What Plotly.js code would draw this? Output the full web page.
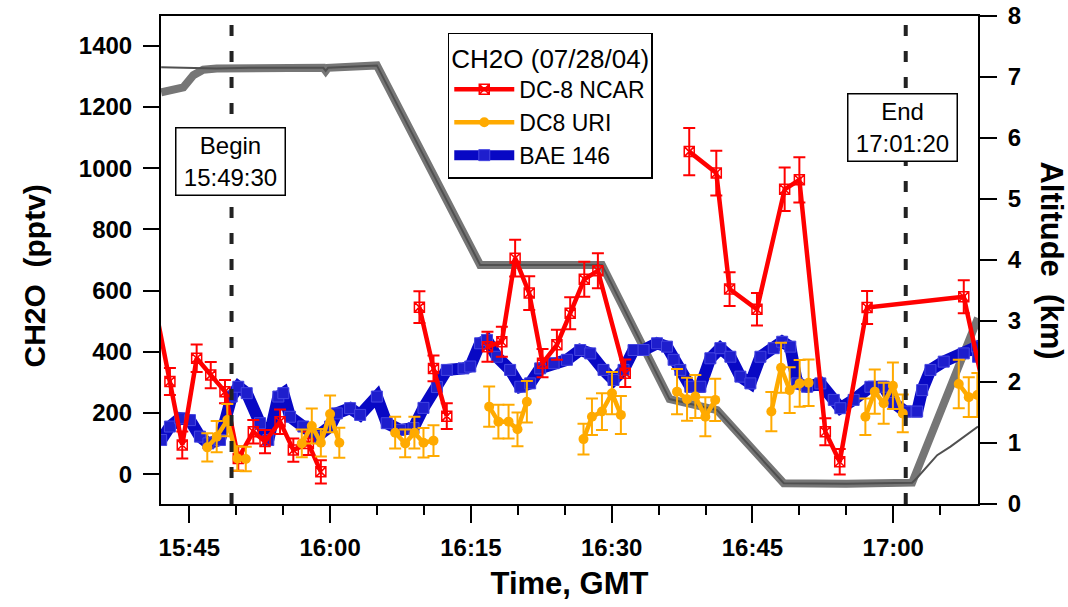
<!DOCTYPE html>
<html>
<head>
<meta charset="utf-8">
<script src="https://cdn.plot.ly/plotly-3.0.1.min.js"></script>
<style>
  html, body { margin: 0; padding: 0; background: #fff; }
  #chart { width: 1068px; height: 607px; }
</style>
</head>
<body>
<div id="chart"></div>
<script>
// CH2O intercomparison flight, 07/28/04 (times GMT)
const flightDate = '2004-07-28';

// DC-8 NCAR CH2O (pptv) with 1-sigma uncertainty; null = gap between legs
const ncarTime = ['15:41:20','15:42:56','15:44:15','15:45:47','15:47:17','15:48:48','15:50:13','15:51:49','15:53:04','15:54:40','15:56:05','15:57:41','15:59:01', null,
  '16:09:31','16:11:01','16:12:26', null,
  '16:16:46','16:18:18','16:19:43','16:21:13','16:22:38','16:24:10','16:25:35','16:27:05','16:28:32','16:31:27', null,
  '16:38:16','16:41:09','16:42:34','16:45:29','16:48:26','16:50:00','16:52:46','16:54:18','16:57:13','17:07:31','17:09:45'];
const ncarCH2O = [551,303,96,379,324,270,52,139,107,172,79,101,8, null,
  546,346,190, null,
  417,433,706,592,363,423,526,637,665,330, null,
  1054,984,605,539,931,962,139,41,545,580,265];
const ncarErr = [0,44,44,45,43,38,40,38,38,40,38,38,38, null,
  52,42,42, null,
  49,49,60,55,46,49,52,57,57,45, null,
  77,73,55,53,71,74,44,42,54,54,0];

// DC-8 URI CH2O (pptv)
const uriTime = ['15:46:55','15:47:55','15:49:03','15:50:07','15:51:01', null,
  '15:56:59','15:58:03','15:59:01','16:00:00','16:00:59', null,
  '16:06:56','16:08:00','16:08:59','16:09:57','16:11:01', null,
  '16:16:57','16:17:56','16:19:01','16:19:58','16:20:58', null,
  '16:27:00','16:27:54','16:28:58','16:30:02','16:30:59', null,
  '16:36:58','16:38:02','16:38:55','16:39:59','16:41:02', null,
  '16:47:01','16:48:03','16:48:58','16:50:02','16:50:59', null,
  '16:57:02','16:58:02','16:58:59','16:59:58','17:01:01', null,
  '17:06:59','17:08:03','17:08:58'];
const uriCH2O = [88,123,177,52,50, null,
  101,158,103,197,103, null,
  136,101,136,103,110, null,
  221,172,172,147,237, null,
  115,188,205,265,194, null,
  270,245,254,188,243, null,
  205,348,275,297,299, null,
  188,270,232,289,199, null,
  295,252,259];
const uriErr = [46,51,53,40,40, null,
  45,57,45,60,49, null,
  52,45,52,48,50, null,
  66,55,55,55,68, null,
  50,60,60,69,62, null,
  74,70,70,64,69, null,
  64,82,75,76,76, null,
  60,72,67,76,62, null,
  79,65,72];

// BAe 146 CH2O (pptv)
const baeTime = ['15:42:00','15:42:56','15:44:01','15:45:04','15:46:08','15:47:02','15:48:16','15:49:31','15:50:13','15:51:07',
  '15:52:32','15:53:25','15:54:29','15:55:01','15:55:44','15:57:09','15:58:35','16:00:00','16:00:43','16:02:08',
  '16:03:12','16:04:59','16:06:02','16:07:28','16:08:53','16:09:57','16:11:23','16:12:26','16:14:13','16:14:56',
  '16:15:59','16:16:43','16:17:46','16:19:11','16:20:16','16:21:19','16:22:23','16:23:49','16:25:14','16:26:39',
  '16:27:43','16:29:08','16:30:12','16:31:16','16:32:20','16:33:24','16:34:50','16:35:54','16:36:36','16:37:19',
  '16:38:23','16:39:27','16:40:31','16:41:35','16:42:39','16:43:43','16:44:47','16:45:51','16:47:16','16:48:10',
  '16:49:02','16:49:46','16:50:49','16:52:14','16:53:40','16:54:22','16:55:47','16:57:34','16:58:59','17:00:03',
  '17:01:18','17:02:33','17:03:05','17:03:58','17:05:23','17:07:31','17:08:56','17:09:02'];
const baeCH2O = [112,156,183,177,123,101,112,254,286,265,
  167,112,254,265,188,156,123,156,199,216,
  194,254,167,145,151,217,285,341,346,352,
  428,439,384,341,286,297,346,363,374,406,
  395,341,308,341,406,406,428,417,374,341,
  286,286,379,412,384,319,297,384,412,433,
  417,297,286,297,243,216,243,286,286,233,
  205,205,275,341,368,395,417,384];

// DC-8 altitude (km)
const dc8AltTime = ['15:42:00','15:43:17','15:44:22','15:45:26','15:46:29','15:47:55','15:51:28','15:59:17','15:59:32','15:59:47',
  '16:04:59','16:15:59','16:28:58','16:36:10','16:41:14','16:48:20','16:55:00','17:02:01','17:09:02'];
const dc8Alt = [6.75,6.78,6.83,7.03,7.12,7.14,7.15,7.15,7.10,7.15,
  7.19,3.92,3.92,1.72,1.54,0.34,0.33,0.35,3.05];

// BAe 146 altitude (km)
const baeAltTime = ['15:42:00','15:47:55','15:51:28','15:59:17','15:59:32','15:59:47','16:04:59','16:15:59','16:28:58','16:36:10',
  '16:41:14','16:48:20','16:55:00','17:02:01','17:02:33','17:04:41','17:06:06','17:09:02'];
const baeAlt = [7.16,7.14,7.15,7.15,7.10,7.15,7.19,3.92,3.92,1.72,
  1.54,0.34,0.33,0.35,0.43,0.80,0.94,1.27];

// Start / end of the comparison window
const windowMarks = [
  { label: 'Begin', time: '15:49:30' },
  { label: 'End', time: '17:01:20' }
];

const axisRange = ['15:41:59', '17:09:02'];

const stamp = t => (t === null ? null : flightDate + ' ' + t);
const stamps = arr => arr.map(stamp);

const FONT = 'Liberation Sans, Arial, Helvetica, sans-serif';
const RED = 'rgb(255,0,0)';
const ORANGE = 'rgb(255,170,0)';
const BLUE = 'rgb(8,8,196)';

const traces = [
  {
    name: 'DC-8 altitude', x: stamps(dc8AltTime), y: dc8Alt, yaxis: 'y',
    mode: 'lines', line: { color: 'rgb(118,118,118)', width: 8 }, showlegend: false, hoverinfo: 'skip'
  },
  {
    name: 'BAe 146 altitude', x: stamps(baeAltTime), y: baeAlt, yaxis: 'y',
    mode: 'lines', line: { color: 'rgb(80,80,80)', width: 2 }, showlegend: false, hoverinfo: 'skip'
  },
  {
    name: 'BAE 146', x: stamps(baeTime), y: baeCH2O, yaxis: 'y2',
    mode: 'lines+markers',
    line: { color: BLUE, width: 12 },
    marker: { symbol: 'square', size: 11, color: 'rgb(30,30,205)', line: { color: 'rgb(70,70,225)', width: 1 } },
    legendrank: 3
  },
  {
    name: 'DC-8 NCAR', x: stamps(ncarTime), y: ncarCH2O, yaxis: 'y2',
    mode: 'lines+markers', connectgaps: false,
    line: { color: RED, width: 4.5 },
    marker: { symbol: 'square-x-open', size: 10, color: RED, line: { color: RED, width: 1.5 } },
    error_y: { type: 'data', array: ncarErr, visible: true, color: RED, thickness: 2, width: 6 },
    legendrank: 1
  },
  {
    name: 'DC8 URI', x: stamps(uriTime), y: uriCH2O, yaxis: 'y2',
    mode: 'lines+markers', connectgaps: false,
    line: { color: ORANGE, width: 4.5 },
    marker: { symbol: 'circle', size: 10, color: ORANGE },
    error_y: { type: 'data', array: uriErr, visible: true, color: ORANGE, thickness: 2, width: 6 },
    legendrank: 2
  }
];

const shapes = windowMarks.map(m => ({
  type: 'line', xref: 'x', yref: 'paper',
  x0: stamp(m.time), x1: stamp(m.time), y0: 0, y1: 1,
  line: { color: 'rgb(34,34,34)', width: 4, dash: '11px,15px' },
  layer: 'above'
}));

const boxPos = [{ x: 0.0854, y: 0.701 }, { x: 0.9076, y: 0.771 }];
const annotations = windowMarks.map((m, i) => ({
  xref: 'paper', yref: 'paper', x: boxPos[i].x, y: boxPos[i].y,
  xanchor: 'center', yanchor: 'middle', showarrow: false,
  text: m.label + '<br>' + m.time,
  font: { family: FONT, size: 24, color: '#000' },
  bgcolor: '#fff', bordercolor: '#000', borderwidth: 1.5, borderpad: 3,
  width: 102, height: 60
}));

annotations.push({
  xref: 'paper', yref: 'paper', x: -0.155, y: 0.467, xanchor: 'center', yanchor: 'middle',
  showarrow: false, textangle: -90,
  text: '<b>CH2O\u00a0\u00a0(pptv)</b>', font: { family: FONT, size: 30, color: '#000' }
});
annotations.push({
  xref: 'paper', yref: 'paper', x: 1.09, y: 0.5, xanchor: 'center', yanchor: 'middle',
  showarrow: false, textangle: 90,
  text: '<b>Altitude\u00a0\u00a0(km)</b>', font: { family: FONT, size: 31, color: '#000' }
});

const tickFont = { family: FONT, size: 24, color: '#000', weight: 'bold' };

const layout = {
  width: 1068, height: 607,
  margin: { l: 161, r: 90, t: 16, b: 103 },
  paper_bgcolor: '#fff', plot_bgcolor: '#fff',
  font: { family: FONT, color: '#000' },
  showlegend: true,
  legend: {
    x: 0.351, y: 0.966, xanchor: 'left', yanchor: 'top',
    bgcolor: '#fff', bordercolor: '#000', borderwidth: 1.5,
    font: { family: FONT, size: 23, color: '#000' },
    title: { text: 'CH2O (07/28/04)', side: 'top center', font: { family: FONT, size: 26, color: '#000' } },
    traceorder: 'normal', itemwidth: 60
  },
  xaxis: {
    type: 'date', range: stamps(axisRange),
    tick0: stamp('15:45:00'), dtick: 15 * 60 * 1000, tickformat: '%H:%M',
    ticks: 'outside', ticklen: 17, tickwidth: 2, tickcolor: '#000',
    minor: { tick0: stamp('15:45:00'), dtick: 5 * 60 * 1000, ticks: 'outside', ticklen: 9, tickwidth: 2, tickcolor: '#000', showgrid: false },
    showline: true, linewidth: 2, linecolor: '#000', mirror: true,
    showgrid: false, zeroline: false,
    tickfont: tickFont, ticklabelstandoff: 4,
    title: { text: '<b>Time, GMT</b>', font: { family: FONT, size: 31, color: '#000' }, standoff: 13 }
  },
  yaxis: {
    side: 'right', range: [0, 8], tick0: 0, dtick: 1,
    ticks: 'outside', ticklen: 17, tickwidth: 2, tickcolor: '#000',
    showline: true, linewidth: 2, linecolor: '#000',
    showgrid: false, zeroline: false,
    tickfont: tickFont, ticklabelstandoff: 6
  },
  yaxis2: {
    overlaying: 'y', side: 'left', range: [-97, 1497], tick0: 0, dtick: 200,
    ticks: 'outside', ticklen: 16, tickwidth: 2, tickcolor: '#000',
    showline: true, linewidth: 2, linecolor: '#000',
    showgrid: false, zeroline: false,
    tickfont: tickFont, ticklabelstandoff: 6
  },
  shapes: shapes,
  annotations: annotations
};

Plotly.newPlot('chart', traces, layout, { displayModeBar: false, staticPlot: true });
</script>
</body>
</html>
